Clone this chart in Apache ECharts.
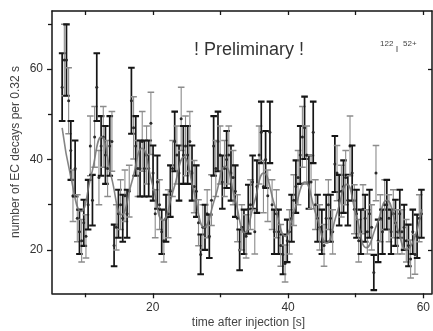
<!DOCTYPE html>
<html><head><meta charset="utf-8">
<script src="https://cdn.jsdelivr.net/npm/echarts@6/dist/echarts.min.js"></script>
<style>html,body{margin:0;padding:0;background:#fff}#c{width:433px;height:331px}</style>
</head><body><div id="c"></div>
<script>
// time bins: first bin centre and bin width (0.32 s per bin)
const binStart = 6.6;
const binWidth = 0.32;
// number of EC decays per bin
const counts = [
  56, 62, 62, 53, 42, 32, 38, 27, 24, 22, 26, 23, 30, 43, 31, 45, 56, 36,
  43, 45, 41, 38, 43, 44, 21, 25, 28, 30, 27, 32, 28, 33,
  53, 47, 43, 38, 38, 44, 38, 41, 38, 48, 37, 28, 35, 30, 24, 22, 27, 28,
  33, 38, 44, 41, 37, 49, 41, 43, 41, 44, 37, 34, 33, 26, 19, 25, 25, 28, 23,
  31, 43, 38, 44, 41, 35, 38, 40, 41, 37, 36, 33, 27, 20, 25, 24, 23, 29, 30,
  35, 24, 34, 41, 46, 34, 40, 32, 46, 30, 24, 28, 24, 21, 19, 17, 22, 24, 27,
  31, 34, 36, 41, 45, 47, 41, 35, 35, 46, 30, 27, 25, 24, 21, 27, 30, 27, 24,
  39, 37, 31, 33, 34, 36, 31, 43, 37, 29, 28, 22, 24, 29, 27, 24, 28, 25, 15,
  37, 22, 27, 24, 30, 30, 27, 24, 28, 26, 24, 28, 24, 25, 22, 21, 18, 24, 19, 23, 27, 28
];
// statistical error of each bin (half length of each error bar)
const countErrors = [
  7.5, 7.9, 7.9, 7.3, 6.5, 5.7, 6.2, 5.2, 4.9, 4.7, 5.1, 4.8, 5.5, 6.6, 5.6, 6.7, 7.5, 6.0,
  6.6, 6.7, 6.4, 6.2, 6.6, 6.6, 4.6, 5.0, 5.3, 5.5, 5.2, 5.7, 5.3, 5.7,
  7.3, 6.9, 6.6, 6.2, 6.2, 6.6, 6.2, 6.4, 6.2, 6.9, 6.1, 5.3, 5.9, 5.5, 4.9, 4.7, 5.2, 5.3,
  5.7, 6.2, 6.6, 6.4, 6.1, 7.0, 6.4, 6.6, 6.4, 6.6, 6.1, 5.8, 5.7, 5.1, 4.4, 5.0, 5.0, 5.3, 4.8,
  5.6, 6.6, 6.2, 6.6, 6.4, 5.9, 6.2, 6.3, 6.4, 6.1, 6.0, 5.7, 5.2, 4.5, 5.0, 4.9, 4.8, 5.4, 5.5,
  5.9, 4.9, 5.8, 6.4, 6.8, 5.8, 6.3, 5.7, 6.8, 5.5, 4.9, 5.3, 4.9, 4.6, 4.4, 4.1, 4.7, 4.9, 5.2,
  5.6, 5.8, 6.0, 6.4, 6.7, 6.9, 6.4, 5.9, 5.9, 6.8, 5.5, 5.2, 5.0, 4.9, 4.6, 5.2, 5.5, 5.2, 4.9,
  6.2, 6.1, 5.6, 5.7, 5.8, 6.0, 5.6, 6.6, 6.1, 5.4, 5.3, 4.7, 4.9, 5.4, 5.2, 4.9, 5.3, 5.0, 3.9,
  6.1, 4.7, 5.2, 4.9, 5.5, 5.5, 5.2, 4.9, 5.3, 5.1, 4.9, 5.3, 4.9, 5.0, 4.7, 4.6, 4.2, 4.9, 4.4, 4.8, 5.2, 5.3
];
// fitted curve
const fitTimes  = [6.6, 7.9, 9.4, 10.9, 12.4, 13.9, 15.4, 16.9, 18.4, 19.95, 21.5, 23.1, 24.6, 26.1, 27.6, 29.2, 30.7, 32.2, 33.6, 35.0, 36.4, 38.0, 39.6, 41.0, 42.5, 44.1, 45.7, 47.2, 48.7, 50.1, 51.6, 53.1, 54.6, 56.0, 57.5, 59.8];
const fitValues = [47, 36, 28.5, 36.5, 45, 36, 27.8, 35, 42.5, 34.5, 26.5, 33.5, 40.5, 32.8, 25, 31.5, 38.5, 31, 23.8, 30.5, 37, 30, 23, 29, 35, 28, 21.5, 28, 34.5, 27.5, 20.5, 25.5, 31, 25.5, 20, 29];
// ticks
const xMajorTicks = [20, 40, 60];
const xMinorTicks = [10, 30, 50];
const xTopTicks = [10, 20, 30, 40, 50, 60];
const yMajorTicks = [20, 40, 60];
const yMinorTicks = [30, 50, 70];
const xRange = [5.1, 61.28];
const yRange = [10.4, 72.85];

const FONT = 'Liberation Sans, Arial, sans-serif';
const AX = '#151515';

const points = counts.map((v, i) => [binStart + i * binWidth, v, countErrors[i], i % 2]);
const fitData = fitTimes.map((t, i) => [t, fitValues[i]]);

const chart = echarts.init(document.getElementById('c'), null, {renderer: 'canvas'});

function xAxisBase(extra) {
  return Object.assign({
    type: 'value', min: xRange[0], max: xRange[1], gridIndex: 0,
    splitLine: {show: false}, axisLine: {show: false, onZero: false},
    axisLabel: {show: false}, axisTick: {show: false}
  }, extra);
}
function yAxisBase(extra) {
  return Object.assign({
    type: 'value', min: yRange[0], max: yRange[1], gridIndex: 0,
    splitLine: {show: false}, axisLine: {show: false, onZero: false},
    axisLabel: {show: false}, axisTick: {show: false}
  }, extra);
}

chart.setOption({
  animation: false,
  backgroundColor: '#fff',
  grid: {left: 52, right: -1, top: 11, bottom: 37.7, containLabel: false},
  xAxis: [
    xAxisBase({position: 'bottom',
      axisLine: {show: true, onZero: false, lineStyle: {color: AX, width: 1.5}},
      axisTick: {show: true, customValues: xMajorTicks, length: 5, lineStyle: {color: AX, width: 1.3}},
      axisLabel: {show: true, customValues: xMajorTicks, margin: 8, fontSize: 12, color: '#333', fontFamily: FONT}}),
    xAxisBase({position: 'bottom',
      axisTick: {show: true, customValues: xMinorTicks, length: 4, lineStyle: {color: AX, width: 1.3}}}),
    xAxisBase({position: 'top',
      axisLine: {show: true, onZero: false, lineStyle: {color: AX, width: 1.5}},
      axisTick: {show: true, inside: true, customValues: xTopTicks, length: 4, lineStyle: {color: AX, width: 1.3}}})
  ],
  yAxis: [
    yAxisBase({position: 'left',
      axisLine: {show: true, onZero: false, lineStyle: {color: AX, width: 1.5}},
      axisTick: {show: true, customValues: yMajorTicks, length: 5, lineStyle: {color: AX, width: 1.3}},
      axisLabel: {show: true, customValues: yMajorTicks, margin: 9, fontSize: 12, color: '#333', fontFamily: FONT}}),
    yAxisBase({position: 'left',
      axisTick: {show: true, customValues: yMinorTicks, length: 4, lineStyle: {color: AX, width: 1.3}}}),
    yAxisBase({position: 'right',
      axisLine: {show: true, onZero: false, lineStyle: {color: AX, width: 1.5}},
      axisTick: {show: true, inside: true, customValues: yMajorTicks, length: 4, lineStyle: {color: AX, width: 1.3}}})
  ],
  series: [
    {
      type: 'custom', xAxisIndex: 0, yAxisIndex: 0, clip: true,
      encode: {x: 0, y: 1},
      data: points,
      renderItem: function (params, api) {
        const t = api.value(0), v = api.value(1), e = api.value(2), g = api.value(3);
        const top = api.coord([t, v + e]);
        const bot = api.coord([t, v - e]);
        const mid = api.coord([t, v]);
        const color = g ? '#8c8c8c' : '#161616';
        const lw = g ? 1.1 : 1.7;
        const hw = 3.3;
        return {
          type: 'group',
          children: [
            {type: 'line', shape: {x1: top[0], y1: top[1], x2: bot[0], y2: bot[1]}, style: {stroke: color, lineWidth: lw}},
            {type: 'line', shape: {x1: top[0] - hw, y1: top[1], x2: top[0] + hw, y2: top[1]}, style: {stroke: color, lineWidth: lw + 0.4}},
            {type: 'line', shape: {x1: bot[0] - hw, y1: bot[1], x2: bot[0] + hw, y2: bot[1]}, style: {stroke: color, lineWidth: lw + 0.4}},
            {type: 'circle', shape: {cx: mid[0], cy: mid[1], r: 1.5}, style: {fill: '#2a2a2a'}}
          ]
        };
      },
      z: 2
    },
    {
      type: 'line', xAxisIndex: 0, yAxisIndex: 0,
      data: fitData, smooth: 0.5, symbol: 'none',
      lineStyle: {color: '#777', width: 1.6, opacity: 0.9},
      z: 3
    }
  ],
  graphic: [
    {type: 'text', x: 15.5, y: 152, rotation: Math.PI / 2,
      style: {text: 'number of EC decays per 0.32 s', fontSize: 12, fontFamily: FONT, fill: '#444', align: 'center', verticalAlign: 'middle'}},
    {type: 'text', x: 248.5, y: 322.5,
      style: {text: 'time after injection [s]', fontSize: 12, fontFamily: FONT, fill: '#444', align: 'center', verticalAlign: 'middle'}},
    {type: 'text', x: 249, y: 50,
      style: {text: '! Preliminary !', fontSize: 18, fontFamily: FONT, fill: '#333', align: 'center', verticalAlign: 'middle'}},
    {type: 'text', x: 380, y: 44,
      style: {text: '122', fontSize: 8, fontFamily: FONT, fill: '#444', align: 'left', verticalAlign: 'middle'}},
    {type: 'text', x: 397, y: 50,
      style: {text: 'I', fontSize: 9, fontFamily: FONT, fill: '#444', align: 'center', verticalAlign: 'middle'}},
    {type: 'text', x: 403, y: 44,
      style: {text: '52+', fontSize: 8, fontFamily: FONT, fill: '#444', align: 'left', verticalAlign: 'middle'}}
  ]
});
</script></body></html>
